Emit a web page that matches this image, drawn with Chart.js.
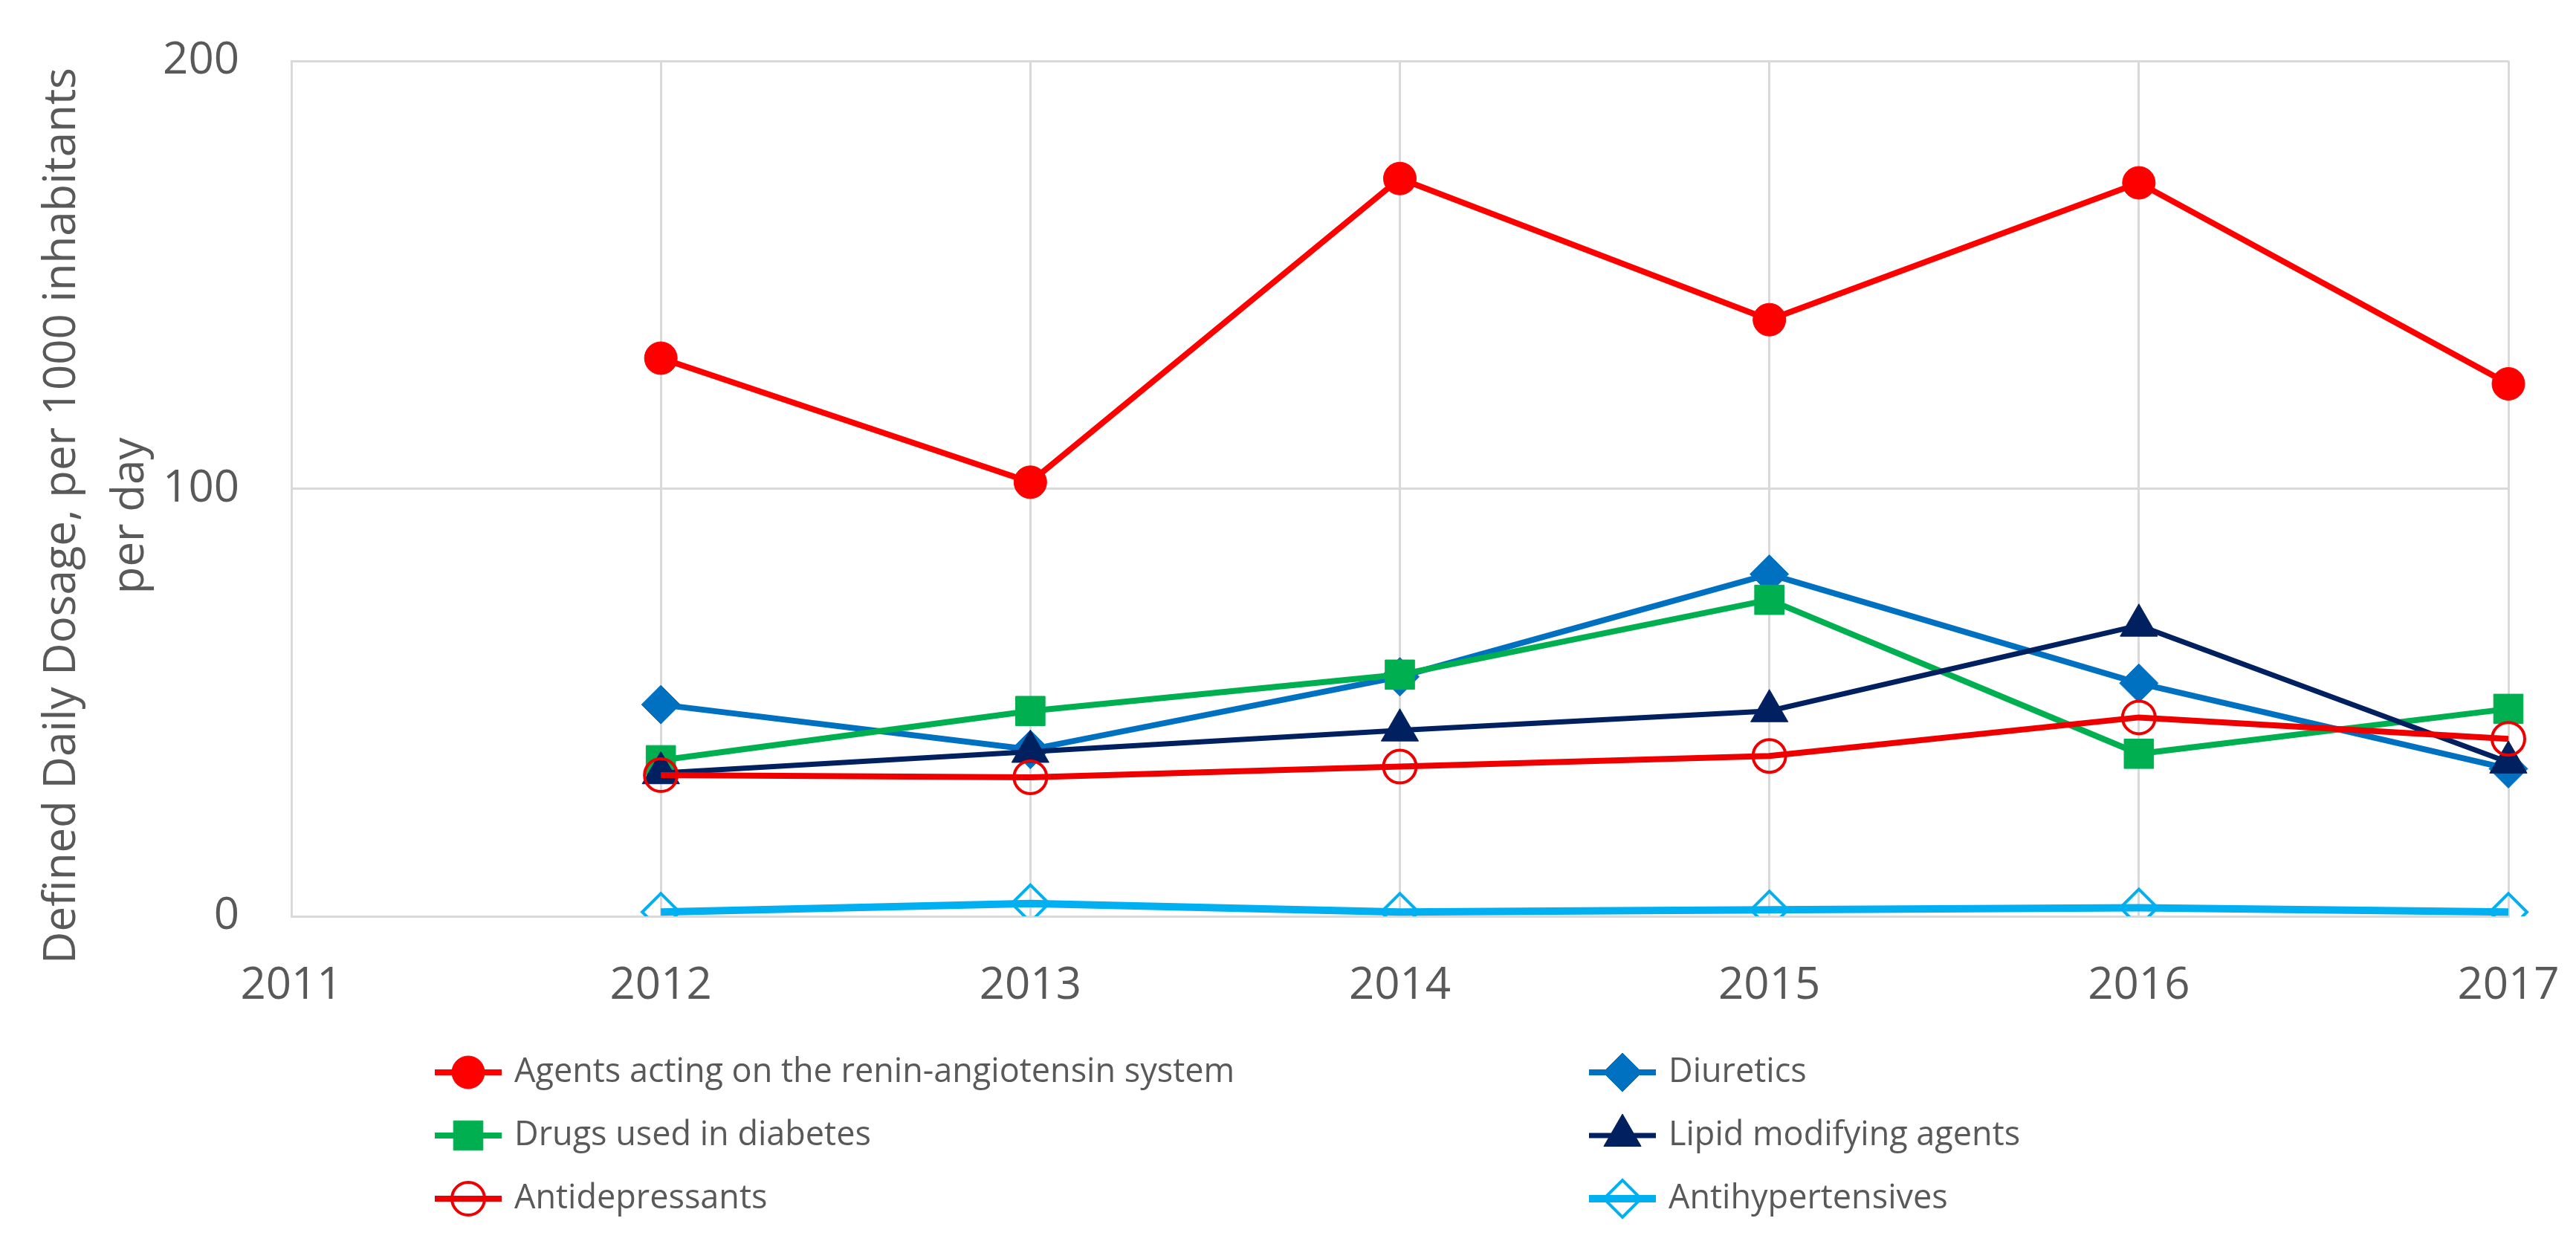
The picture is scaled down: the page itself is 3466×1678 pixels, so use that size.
<!DOCTYPE html>
<html>
<head>
<meta charset="utf-8">
<script src="https://cdn.jsdelivr.net/npm/chart.js@4/dist/chart.umd.min.js"></script>
<style>
  html, body { margin: 0; padding: 0; background: #fff; }
  canvas { display: block; }
</style>
</head>
<body>
<canvas id="ddd" width="3466" height="1678"></canvas>
<script>
// Data
const years = ['2011', '2012', '2013', '2014', '2015', '2016', '2017'];
const seriesNames = [
    'Agents acting on the renin-angiotensin system',
    'Diuretics',
    'Drugs used in diabetes',
    'Lipid modifying agents',
    'Antidepressants',
    'Antihypertensives'
];
const rasAgents = [null, 130.5, 101.5, 172.5, 139.5, 171.5, 124.5];
const diuretics = [null, 49.5, 39, 56, 80, 54.5, 34.5];
const diabetesDrugs = [null, 36.5, 48, 56.5, 74, 38, 48.5];
const lipidAgents = [null, 33.5, 38.5, 43.5, 48, 68, 36];
const antidepressants = [null, 33, 32.5, 35, 37.5, 46.5, 41.5];
const antihypertensives = [null, 1, 3, 1, 1.5, 2, 1];
const yTicks = [0, 100, 200];
const yTitle = ['Defined Daily Dosage, per 1000 inhabitants', 'per day'];

const gridColor = '#d9d9d9';
const textColor = '#595959';
const fontFamily = '"Open Sans", "Noto Sans", sans-serif';

function series(i, data, color, style, radius, filled, width) {
    return {
        label: seriesNames[i],
        data: data,
        borderColor: color,
        backgroundColor: filled ? color : 'rgba(0,0,0,0)',
        borderWidth: width,
        pointStyle: style,
        pointRadius: radius,
        pointHoverRadius: radius,
        pointBorderWidth: filled ? 1 : 4,
        pointBorderColor: color,
        pointBackgroundColor: filled ? color : 'rgba(0,0,0,0)',
        tension: 0,
        spanGaps: false,
        order: 10 - i
    };
}

const datasets = [
    series(0, rasAgents, '#ff0000', 'circle', 22, true, 8),
    series(1, diuretics, '#0070c0', 'rectRot', 26, true, 8),
    series(2, diabetesDrugs, '#00b050', 'rect', 28, true, 8),
    series(3, lipidAgents, '#002060', 'triangle', 29, true, 7),
    series(4, antidepressants, '#ee0000', 'circle', 22, false, 8),
    series(5, antihypertensives, '#00b0f0', 'rectRot', 25, false, 10)
];

// Legend in two columns, Excel style (line + marker)
const legendPlugin = {
    id: 'excelLegend',
    afterDraw(chart) {
        const ctx = chart.ctx;
        const cols = [630, 2183];
        const rows = [1443, 1528, 1613];
        ctx.save();
        chart.data.datasets.forEach((ds, i) => {
            const cx = cols[i % 2];
            const cy = rows[Math.floor(i / 2)];
            ctx.strokeStyle = ds.borderColor;
            ctx.lineWidth = ds.borderWidth;
            ctx.beginPath();
            ctx.moveTo(cx - 45, cy);
            ctx.lineTo(cx + 45, cy);
            ctx.stroke();
            ctx.fillStyle = ds.pointBackgroundColor;
            ctx.strokeStyle = ds.pointBorderColor;
            ctx.lineWidth = ds.pointBorderWidth;
            Chart.helpers.drawPoint(ctx, {
                pointStyle: ds.pointStyle,
                radius: ds.pointRadius,
                rotation: 0,
                borderWidth: ds.pointBorderWidth
            }, cx, cy);
            ctx.fillStyle = textColor;
            ctx.font = '45px ' + fontFamily;
            ctx.textAlign = 'left';
            ctx.textBaseline = 'middle';
            ctx.fillText(ds.label, cx + 62, cy);
        });
        ctx.restore();
    }
};

// Rotated two-line y axis title
const yTitlePlugin = {
    id: 'yTitle',
    afterDraw(chart) {
        const ctx = chart.ctx;
        ctx.save();
        ctx.translate(84, 694);
        ctx.rotate(-Math.PI / 2);
        ctx.fillStyle = textColor;
        ctx.font = '60px ' + fontFamily;
        ctx.textAlign = 'center';
        ctx.textBaseline = 'middle';
        yTitle.forEach((line, i) => ctx.fillText(line, 0, i * 92));
        ctx.restore();
    }
};

new Chart(document.getElementById('ddd').getContext('2d'), {
    type: 'line',
    data: { labels: years, datasets: datasets },
    options: {
        responsive: false,
        devicePixelRatio: 1,
        animation: false,
        layout: { padding: { left: 0, top: 82, right: 91, bottom: 0 } },
        plugins: {
            legend: { display: false },
            tooltip: { enabled: false }
        },
        scales: {
            x: {
                offset: false,
                grid: { color: gridColor, lineWidth: 3, drawTicks: false },
                border: { color: gridColor, width: 3 },
                ticks: {
                    color: textColor,
                    font: { family: fontFamily, size: 60 },
                    padding: 58,
                    maxRotation: 0,
                    autoSkip: false
                },
                afterFit(scale) {
                    scale.height = 445;
                    scale.paddingLeft = 0;
                    scale.paddingRight = 0;
                }
            },
            y: {
                min: 0,
                max: 200,
                grid: { color: gridColor, lineWidth: 3, drawTicks: false },
                border: { color: gridColor, width: 3 },
                afterBuildTicks(scale) { scale.ticks = yTicks.map(v => ({ value: v })); },
                ticks: {
                    color: textColor,
                    font: { family: fontFamily, size: 60 },
                    padding: 70
                },
                afterFit(scale) {
                    scale.width = 392;
                    scale.paddingTop = 0;
                    scale.paddingBottom = 0;
                }
            }
        }
    },
    plugins: [legendPlugin, yTitlePlugin]
});
</script>
</body>
</html>
